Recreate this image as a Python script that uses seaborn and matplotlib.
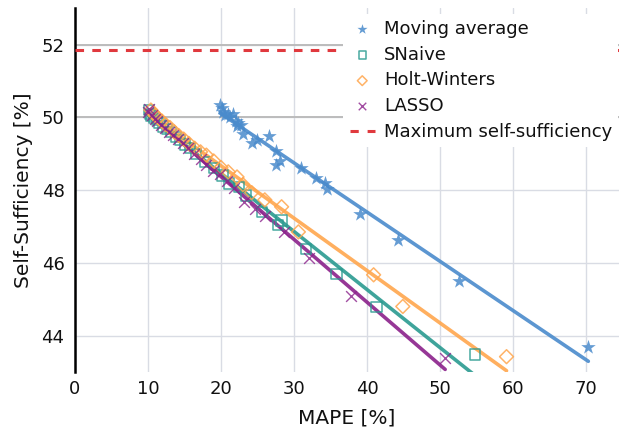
import matplotlib
matplotlib.use("Agg")
import matplotlib.pyplot as plt
from matplotlib.lines import Line2D
import numpy as np
import pandas as pd
import seaborn as sns

# data: MAPE [%] vs self-sufficiency [%]
ma_mape = [19.9, 20.1, 20.3, 20.6, 20.9, 21.3, 21.6, 22.0, 22.3, 22.2, 22.7, 23.0, 24.2,
           24.9, 26.6, 27.5, 28.1, 27.6, 31.0, 33.0, 34.2, 34.5, 39.0, 44.2, 52.6, 70.3]
ma_ss = [50.35, 50.25, 50.15, 50.05, 50.1, 50.0, 50.08, 49.9, 49.85, 49.75, 49.8, 49.55, 49.3,
         49.37, 49.48, 49.07, 48.8, 48.7, 48.6, 48.33, 48.2, 48.03, 47.35, 46.63, 45.5, 43.68]

sn_mape = [10.1, 10.3, 10.5, 10.8, 11.2, 11.6, 12.1, 12.6, 13.2, 13.8, 14.4, 15.1, 15.8, 16.6,
           17.8, 19.0, 20.2, 21.1, 22.5, 23.4, 25.6, 27.8, 28.3, 31.6, 35.8, 41.3, 54.8]
sn_ss = [50.2, 50.1, 50.05, 49.98, 49.92, 49.85, 49.75, 49.68, 49.6, 49.45, 49.38, 49.25, 49.15, 49.0,
         48.78, 48.6, 48.4, 48.18, 48.08, 47.85, 47.4, 47.04, 47.16, 46.38, 45.7, 44.79, 43.48]

hw_mape = [10.4, 10.7, 11.0, 11.4, 11.9, 12.4, 13.0, 13.6, 14.2, 14.9, 15.6, 16.4, 17.2, 18.0,
           19.0, 20.0, 21.0, 22.2, 23.0, 24.2, 26.0, 28.3, 30.6, 40.9, 44.9, 59.1]
hw_ss = [50.2, 50.12, 50.05, 49.98, 49.9, 49.8, 49.72, 49.6, 49.5, 49.4, 49.28, 49.15, 49.05, 48.96,
         48.8, 48.62, 48.5, 48.36, 48.15, 47.93, 47.73, 47.54, 46.85, 45.67, 44.8, 43.42]

la_mape = [10.0, 10.2, 10.5, 10.9, 11.3, 11.8, 12.3, 12.9, 13.5, 14.1, 14.8, 15.5, 16.3, 17.2,
           18.0, 18.9, 19.8, 20.8, 21.8, 23.1, 24.7, 26.0, 28.6, 32.1, 37.8, 50.7]
la_ss = [50.15, 50.22, 50.05, 49.95, 49.9, 49.8, 49.7, 49.6, 49.5, 49.4, 49.3, 49.15, 49.0, 48.85,
         48.7, 48.53, 48.45, 48.25, 48.05, 47.68, 47.47, 47.3, 46.85, 46.13, 45.1, 43.39]

max_ss = 51.85

series = [
    ("Moving average", ma_mape, ma_ss, "#4a8bcc", "*"),
    ("SNaive", sn_mape, sn_ss, "#2a9a90", "s"),
    ("Holt-Winters", hw_mape, hw_ss, "#ffa64d", "D"),
    ("LASSO", la_mape, la_ss, "#8b218b", "x"),
]

sns.set_style("white")
plt.rcParams['font.family'] = ['DejaVu Sans']
plt.rcParams['text.color'] = '#111111'
plt.rcParams['xtick.color'] = '#111111'
plt.rcParams['ytick.color'] = '#111111'
plt.rcParams['axes.labelcolor'] = '#111111'

fig = plt.figure(figsize=(6.19, 4.30), dpi=100)
ax = fig.add_axes([0.121, 0.135, 0.879, 0.846])

handles = []
for name, x, y, col, mk in series:
    df = pd.DataFrame({"mape": x, "ss": y})
    sns.regplot(data=df, x="mape", y="ss", scatter=False, ci=None, ax=ax,
                line_kws=dict(color=col, lw=2.6, alpha=0.9, zorder=3))
    if mk == "*":
        h = ax.scatter(df.mape, df.ss, marker="*", s=120, color=col, alpha=0.85,
                       linewidths=0, zorder=4, label=name)
    elif mk == "x":
        h = ax.scatter(df.mape, df.ss, marker="x", s=60, color=col, alpha=0.8,
                       linewidths=1.0, zorder=4, label=name)
    else:
        h = ax.scatter(df.mape, df.ss, marker=mk, s=55 if mk == "s" else 50, facecolors="none",
                       edgecolors=col, alpha=0.85, linewidths=1.1, zorder=4, label=name)
    handles.append(h)

ax.axhline(max_ss, color="#e0393e", lw=2.2, dashes=(2.8, 2.7), zorder=3)
handles.append(Line2D([], [], color="#e0393e", lw=2.2, dashes=(2.7, 2.9),
                      label="Maximum self-sufficiency"))

ax.set_xlim(0, 74.5)
ax.set_ylim(43, 53)
ax.set_xticks([0, 10, 20, 30, 40, 50, 60, 70])
ax.set_yticks([44, 46, 48, 50, 52])
ax.grid(True, color="#d9dce4", lw=1.0, zorder=0)
for yv in [50, 52]:
    ax.axhline(yv, color="#bcbcbc", lw=1.4, zorder=1)
ax.set_axisbelow(True)

for s in ["top", "right", "bottom"]:
    ax.spines[s].set_visible(False)
ax.spines["left"].set_color("black")
ax.spines["left"].set_linewidth(1.8)
ax.tick_params(axis="x", length=0, labelsize=13, pad=6)
ax.tick_params(axis="y", length=4, color="#aaaaaa", labelsize=13)

ax.set_xlabel("MAPE [%]", fontsize=14.5, labelpad=7)
ax.set_ylabel("Self-Sufficiency [%]", fontsize=14.5, labelpad=6)

leg = ax.legend(handles=handles, loc="upper right", bbox_to_anchor=(1.009, 1.0),
                fontsize=13, frameon=True, facecolor="white", edgecolor="none",
                framealpha=1, handlelength=1.4, handletextpad=0.5, labelspacing=0.43,
                borderpad=0.35, borderaxespad=0.3, markerscale=0.7)
leg.set_zorder(10)

fig.savefig("out.png", dpi=100)
